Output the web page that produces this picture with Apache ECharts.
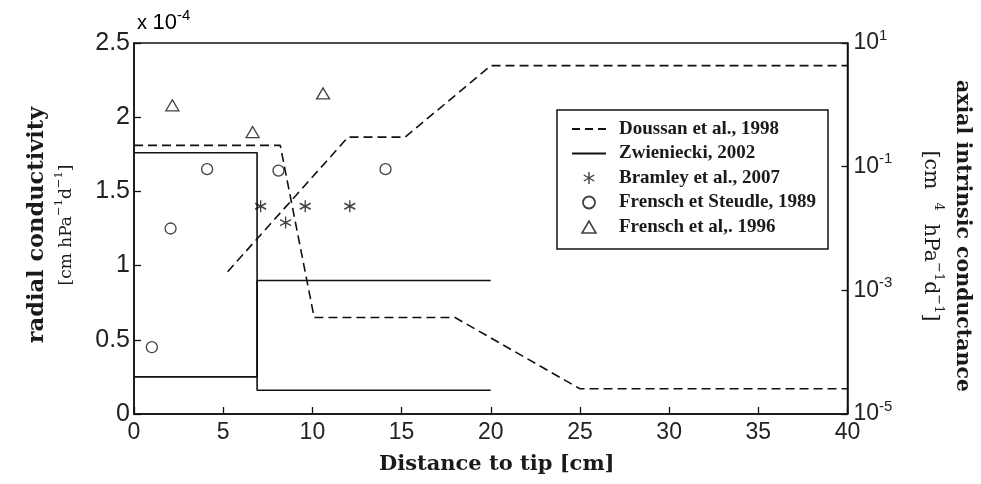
<!DOCTYPE html>
<html>
<head>
<meta charset="utf-8">
<script src="https://cdn.jsdelivr.net/npm/echarts@6/dist/echarts.min.js"></script>
<style>
  html, body { margin: 0; padding: 0; background: #fff; }
  #chart { width: 981px; height: 484px; }
</style>
</head>
<body>
<div id="chart"></div>
<script>
// Doussan et al. (1998): radial conductivity (left axis, x1e-4) and axial conductance (right axis, log)
const doussanRadialX = [0, 8.2, 10.1, 18, 25, 40];
const doussanRadialY = [1.81, 1.81, 0.65, 0.65, 0.17, 0.17];
const doussanAxialX = [5.25, 12, 15.2, 20, 40];
const doussanAxialY = [2.0e-3, 0.3, 0.3, 4.3, 4.3];

// Zwieniecki (2002): two step profiles of radial conductivity
const zwienieckiUpperX = [0, 6.9, 6.9, 20];
const zwienieckiUpperY = [1.76, 1.76, 0.16, 0.16];
const zwienieckiLowerX = [0, 6.9, 6.9, 20];
const zwienieckiLowerY = [0.25, 0.25, 0.9, 0.9];

// Point measurements of radial conductivity
const bramleyX = [7.1, 8.5, 9.6, 12.1];
const bramleyY = [1.4, 1.29, 1.4, 1.4];
const steudleX = [1, 2.05, 4.1, 8.1, 14.1];
const steudleY = [0.45, 1.25, 1.65, 1.64, 1.65];
const frensch96X = [2.15, 6.65, 10.6];
const frensch96Y = [2.08, 1.9, 2.16];

// Legend names
const seriesNames = [
  'Doussan et al., 1998',
  'Zwieniecki, 2002',
  'Bramley et al., 2007',
  'Frensch et Steudle, 1989',
  'Frensch et al,. 1996'
];

// Tick labels
const xTickLabels = ['0', '5', '10', '15', '20', '25', '30', '35', '40'];
const leftTickLabels = ['0', '0.5', '1', '1.5', '2', '2.5'];
const rightTickValues = [1e-5, 1e-3, 1e-1, 10];
const rightTickExponents = ['-5', '-3', '-1', '1'];

const INK = '#111';
const pairs = (xs, ys) => xs.map((x, i) => [x, ys[i]]);

const dashed = { color: INK, width: 1.6, type: [9, 5] };
const solid = { color: INK, width: 1.6, type: 'solid' };
const hollow = { color: 'rgba(0,0,0,0)', borderColor: INK, borderWidth: 1.3 };
const asterisk = 'path://M0,-10L0,10M-8.66,-5L8.66,5M-8.66,5L8.66,-5';
const triangleIcon = 'path://M0,10L5.8,0L11.6,10Z';
const dashIcon = 'path://M0,0h8v2h-8zM13,0h8v2h-8zM26,0h8v2h-8z';
const lineIcon = 'path://M0,0h34v1.8h-34z';

const sansNum = 'Liberation Sans, Arial, sans-serif';
const serif = 'DejaVu Serif, Liberation Serif, serif';
const legendSerif = 'Liberation Serif, Times New Roman, serif';

const chart = echarts.init(document.getElementById('chart'), null, { renderer: 'canvas' });

chart.setOption({
  animation: false,
  backgroundColor: '#fff',
  grid: {
    left: 134, right: 132, top: 43, bottom: 70,
    show: true, borderColor: INK, borderWidth: 1.5, backgroundColor: 'rgba(0,0,0,0)'
  },
  legend: {
    data: [
      { name: seriesNames[0], icon: dashIcon, itemStyle: { color: INK, borderWidth: 0 } },
      { name: seriesNames[1], icon: lineIcon, itemStyle: { color: INK, borderWidth: 0 } },
      { name: seriesNames[2], icon: asterisk, itemStyle: { color: 'rgba(0,0,0,0)', borderColor: INK, borderWidth: 1.4 } },
      { name: seriesNames[3], icon: 'circle', itemStyle: { color: 'rgba(0,0,0,0)', borderColor: INK, borderWidth: 1.8 } },
      { name: seriesNames[4], icon: triangleIcon, itemStyle: { color: 'rgba(0,0,0,0)', borderColor: INK, borderWidth: 1.6 } }
    ],
    orient: 'vertical',
    left: 567, top: 114,
    itemWidth: 34, itemHeight: 12, itemGap: 4.5,
    symbolKeepAspect: true,
    selectedMode: false,
    textStyle: {
      fontFamily: legendSerif, fontWeight: 'bold', fontSize: 19, color: '#1a1a1a',
      lineHeight: 20, padding: [0, 0, 0, 8]
    }
  },
  graphic: [
    {
      type: 'rect', silent: true,
      shape: { x: 557, y: 110, width: 271, height: 139 },
      style: { fill: 'none', stroke: INK, lineWidth: 1.5 }
    },
    {
      type: 'text', left: 137, top: 8, silent: true,
      style: {
        text: '{x|x }{b|10}{s|-4}',
        rich: {
          x: { fontFamily: sansNum, fontSize: 20, color: '#222', lineHeight: 30 },
          b: { fontFamily: sansNum, fontSize: 22, color: '#222', lineHeight: 30 },
          s: { fontFamily: sansNum, fontSize: 15, color: '#222', lineHeight: 16, verticalAlign: 'top' }
        }
      }
    }
  ],
  xAxis: {
    type: 'value', min: 0, max: 40, interval: 5,
    axisLine: { show: true, onZero: false, lineStyle: { color: INK, width: 1.5 } },
    axisTick: { show: true, inside: true, length: 7, lineStyle: { color: INK, width: 1.3 } },
    splitLine: { show: false },
    axisLabel: {
      fontFamily: sansNum, fontSize: 23, color: '#222', margin: 7,
      formatter: v => xTickLabels[Math.round(v / 5)]
    },
    name: 'Distance to tip [cm]',
    nameLocation: 'middle', nameGap: 40,
    nameTextStyle: { fontFamily: serif, fontWeight: 'bold', fontSize: 21, color: '#1a1a1a', padding: [0, 0, 0, 12] }
  },
  yAxis: [
    {
      type: 'value', min: 0, max: 2.5, interval: 0.5, position: 'left',
      axisLine: { show: true, onZero: false, lineStyle: { color: INK, width: 1.5 } },
      axisTick: { show: true, inside: true, length: 7, lineStyle: { color: INK, width: 1.3 } },
      splitLine: { show: false },
      axisLabel: {
        fontFamily: sansNum, fontSize: 25, color: '#222', margin: 4,
        formatter: v => leftTickLabels[Math.round(v / 0.5)]
      },
      name: '{t|radial conductivity}\n{u|[cm hPa}{s|−1}{u|d}{s|−1}{u|]}',
      nameLocation: 'middle', nameGap: 53,
      nameTextStyle: {
        padding: [0, 0, 0, 7],
        rich: {
          t: { fontFamily: serif, fontWeight: 'bold', fontSize: 22.5, color: '#1a1a1a', lineHeight: 31 },
          u: { fontFamily: serif, fontSize: 17, color: '#1a1a1a', lineHeight: 28 },
          s: { fontFamily: serif, fontSize: 11.5, color: '#1a1a1a', lineHeight: 14, verticalAlign: 'top' }
        }
      }
    },
    {
      type: 'log', logBase: 10, min: 1e-5, max: 10, position: 'right',
      axisLine: { show: true, onZero: false, lineStyle: { color: INK, width: 1.5 } },
      axisTick: { show: true, inside: true, length: 6, customValues: rightTickValues, lineStyle: { color: INK, width: 1.3 } },
      splitLine: { show: false },
      axisLabel: {
        customValues: rightTickValues,
        margin: 6,
        formatter: v => {
          const i = rightTickValues.findIndex(t => Math.abs(Math.log10(t) - Math.log10(v)) < 1e-6);
          return '{b|10}{s|' + rightTickExponents[i] + '}';
        },
        rich: {
          b: { fontFamily: sansNum, fontSize: 23, color: '#222', lineHeight: 30 },
          s: { fontFamily: sansNum, fontSize: 15, color: '#222', lineHeight: 16, verticalAlign: 'top' }
        }
      },
      name: '{t|axial intrinsic conductance}\n{u|[cm  }{s|4}{u|  hPa}{s|−1}{u|d}{s|−1}{u|]}',
      nameLocation: 'middle', nameGap: 69, nameRotate: -90,
      nameTextStyle: {
        padding: [0, 0, 0, 15],
        rich: {
          t: { fontFamily: serif, fontWeight: 'bold', fontSize: 20.5, color: '#1a1a1a', lineHeight: 36 },
          u: { fontFamily: serif, fontSize: 20.5, color: '#1a1a1a', lineHeight: 28 },
          s: { fontFamily: serif, fontSize: 13, color: '#1a1a1a', lineHeight: 14, verticalAlign: 'top' }
        }
      }
    }
  ],
  series: [
    {
      name: seriesNames[0], type: 'line', yAxisIndex: 0, symbol: 'none',
      data: pairs(doussanRadialX, doussanRadialY),
      lineStyle: dashed, itemStyle: { color: INK }
    },
    {
      name: seriesNames[0], type: 'line', yAxisIndex: 1, symbol: 'none',
      data: pairs(doussanAxialX, doussanAxialY),
      lineStyle: dashed, itemStyle: { color: INK }
    },
    {
      name: seriesNames[1], type: 'line', yAxisIndex: 0, symbol: 'none',
      data: pairs(zwienieckiUpperX, zwienieckiUpperY),
      lineStyle: solid, itemStyle: { color: INK }
    },
    {
      name: seriesNames[1], type: 'line', yAxisIndex: 0, symbol: 'none',
      data: pairs(zwienieckiLowerX, zwienieckiLowerY),
      lineStyle: solid, itemStyle: { color: INK }
    },
    {
      name: seriesNames[2], type: 'scatter', yAxisIndex: 0,
      symbol: asterisk, symbolSize: [11, 12],
      data: pairs(bramleyX, bramleyY),
      itemStyle: { color: 'rgba(0,0,0,0)', borderColor: INK, borderWidth: 1.4 }
    },
    {
      name: seriesNames[3], type: 'scatter', yAxisIndex: 0,
      symbol: 'circle', symbolSize: 11,
      data: pairs(steudleX, steudleY),
      itemStyle: hollow
    },
    {
      name: seriesNames[4], type: 'scatter', yAxisIndex: 0,
      symbol: 'triangle', symbolSize: [13, 11],
      data: pairs(frensch96X, frensch96Y),
      itemStyle: hollow
    }
  ]
});
</script>
</body>
</html>
